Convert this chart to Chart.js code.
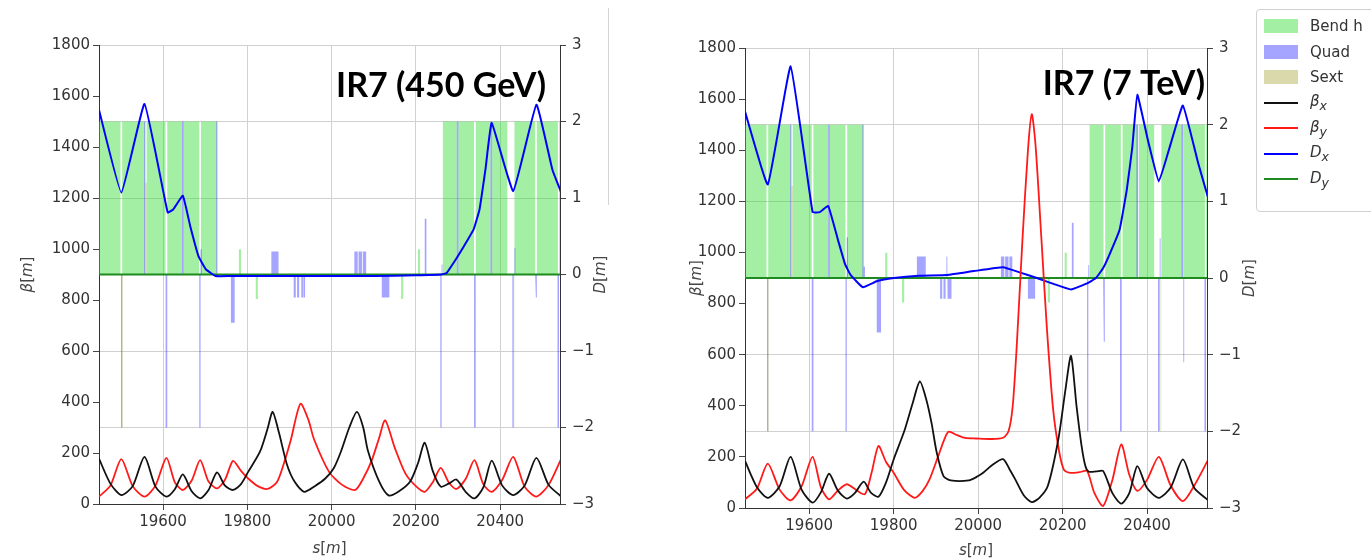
<!DOCTYPE html>
<html>
<head>
<meta charset="utf-8">
<script src="https://cdn.jsdelivr.net/npm/chart.js@4.4.1/dist/chart.umd.min.js"></script>
<style>
  body { margin: 0; background: #fff; width: 1371px; height: 560px; overflow: hidden; position: relative; font-family: "DejaVu Sans", sans-serif; }
  #left { position: absolute; left: 0; top: 0; }
  #right { position: absolute; left: 650px; top: 0; }
  #sep { position: absolute; left: 608px; top: 8px; width: 1px; height: 197px; background: #d4d4d4; }
  #legend { position: absolute; left: 1256px; top: 9px; width: 130px; height: 201px; border: 1px solid #d0d0d0; border-radius: 4px; background: #fff; }
  .item { position: absolute; left: 0; height: 20px; font-size: 15px; color: #333; display: flex; align-items: center; white-space: nowrap; }
  .sw { width: 34px; margin-left: 7px; margin-right: 12px; }
</style>
</head>
<body>
<canvas id="left" width="640" height="560"></canvas>
<canvas id="right" width="615" height="560"></canvas>
<div id="sep"></div>
<div id="legend"></div>
<script>
// s positions of ticks
const xTicks = [19600, 19800, 20000, 20200, 20400];

// lattice elements: [s start, s end, height in D units]
const bends = [
  [19440, 19499, 2], [19503, 19556, 2], [19561, 19606, 2], [19610, 19645, 2], [19649, 19686, 2], [19690, 19727, 2],
  [19780, 19785, 0.33], [19820, 19825, -0.32], [20165, 20170, -0.32], [20205, 20210, 0.33],
  [20264, 20297, 2], [20301, 20338, 2], [20342, 20377, 2], [20381, 20417, 2], [20434, 20483, 2], [20487, 20537, 2], [20540, 20550, 2]
];
const sexts = [[19503, 19505, -2], [19558, 19561, 1.2], [20432, 20434, -2]];

const quadsL = [
  [19500, 19503, -2], [19555, 19558, 2], [19606, 19610, -2], [19645, 19649, 2], [19686, 19689, -2], [19689, 19692, 0.33],
  [19726, 19729, 2], [19761, 19770, -0.63], [19857, 19874, 0.3],
  [19910, 19915, -0.3], [19918, 19923, -0.3], [19925, 19927, 0.08], [19928, 19932, -0.3], [19933, 19937, -0.3],
  [20054, 20062, 0.3], [20064, 20072, 0.3], [20074, 20082, 0.3], [20119, 20137, -0.3],
  [20221, 20225, 0.73], [20258, 20261, -2], [20261, 20263, 0.13], [20297, 20301, 2], [20338, 20342, -2],
  [20377, 20381, 2], [20429, 20432, -2], [20434, 20436, 0.35], [20483, 20485, 2], [20485, 20487, -0.3], [20536, 20540, -2]
];
const quadsR = [
  [19500, 19503, -2], [19555, 19558, 2], [19606, 19610, -2], [19645, 19649, 2], [19686, 19689, -2], [19689, 19692, 0.53],
  [19726, 19729, 2], [19729, 19732, 0.15], [19760, 19770, -0.71], [19855, 19876, 0.28],
  [19910, 19915, -0.27], [19918, 19923, -0.27], [19925, 19927, 0.28], [19928, 19932, -0.27], [19933, 19937, -0.27],
  [20054, 20062, 0.28], [20064, 20072, 0.28], [20074, 20081, 0.28], [20118, 20135, -0.27],
  [20222, 20226, 0.72], [20258, 20261, -2], [20261, 20263, 0.17], [20296, 20298, 2], [20298, 20300, -0.83],
  [20336, 20340, -2], [20375, 20379, 2], [20426, 20430, -2], [20430, 20432, 0.52],
  [20482, 20486, 2], [20486, 20488, -1.1], [20536, 20540, -2]
];

// optics, 450 GeV: [s, value]
const betaxL = [
  [19448, 178], [19475, 80], [19501, 35], [19528, 70], [19556, 185], [19582, 68], [19608, 29], [19628, 58], [19647, 116],
  [19668, 50], [19688, 22], [19708, 55], [19728, 124], [19747, 72], [19766, 55], [19785, 78], [19802, 126], [19830, 205],
  [19848, 295], [19860, 361], [19875, 280], [19894, 155], [19912, 88], [19935, 48], [19960, 70], [19985, 100], [20005, 140],
  [20022, 205], [20042, 300], [20060, 361], [20075, 300], [20086, 210], [20113, 88], [20136, 33], [20160, 50], [20186, 87],
  [20205, 160], [20221, 240], [20240, 130], [20259, 68], [20278, 80], [20296, 96], [20318, 48], [20339, 22], [20360, 65],
  [20380, 170], [20405, 72], [20431, 35], [20458, 72], [20486, 181], [20515, 75], [20545, 29]
];
const betayL = [
  [19448, 29], [19475, 72], [19501, 176], [19528, 70], [19556, 29], [19582, 72], [19608, 181], [19628, 85], [19647, 55],
  [19668, 92], [19688, 172], [19708, 88], [19728, 61], [19747, 95], [19766, 169], [19785, 130], [19802, 100], [19825, 70],
  [19848, 59], [19870, 85], [19885, 150], [19903, 250], [19926, 393], [19945, 330], [19958, 255], [19994, 126], [20025, 75],
  [20056, 55], [20075, 100], [20095, 170], [20113, 260], [20127, 328], [20150, 220], [20175, 120], [20200, 70], [20221, 48],
  [20240, 85], [20259, 142], [20278, 85], [20296, 59], [20318, 98], [20339, 172], [20360, 78], [20380, 48], [20405, 95],
  [20431, 185], [20458, 68], [20486, 29], [20515, 75], [20545, 178]
];
const dxL = [
  [19448, 2.15], [19501, 1.07], [19556, 2.23], [19611, 0.81], [19624, 0.85], [19647, 1.03], [19665, 0.62], [19684, 0.24],
  [19702, 0.065], [19725, -0.02], [19760, -0.02], [20100, -0.02], [20200, -0.01], [20259, 0], [20273, 0.02], [20295, 0.2],
  [20314, 0.37], [20337, 0.59], [20351, 0.85], [20365, 1.37], [20380, 1.98], [20431, 1.09], [20486, 2.22], [20524, 1.37], [20545, 1.07]
];

// optics, 7 TeV
const betaxR = [
  [19448, 184], [19476, 82], [19502, 40], [19530, 85], [19556, 200], [19582, 72], [19608, 21], [19628, 62], [19647, 134],
  [19668, 68], [19689, 37], [19708, 58], [19729, 103], [19746, 60], [19764, 44], [19782, 100], [19800, 190], [19825, 300],
  [19845, 410], [19862, 495], [19878, 420], [19890, 330], [19902, 217], [19918, 125], [19935, 108], [19978, 108], [20000, 125],
  [20012, 138], [20035, 170], [20059, 191], [20075, 150], [20088, 112], [20108, 50], [20127, 23], [20145, 40], [20165, 86],
  [20190, 269], [20207, 465], [20220, 595], [20233, 400], [20245, 243], [20254, 164], [20262, 142], [20280, 143], [20296, 145],
  [20318, 58], [20339, 17], [20358, 58], [20377, 164], [20400, 78], [20428, 40], [20456, 80], [20485, 190], [20512, 78], [20545, 30]
];
const betayR = [
  [19448, 34], [19476, 75], [19502, 174], [19530, 72], [19556, 30], [19582, 85], [19608, 200], [19628, 80], [19647, 34],
  [19668, 68], [19689, 93], [19710, 72], [19732, 54], [19748, 140], [19764, 243], [19782, 180], [19800, 138], [19825, 70],
  [19850, 40], [19868, 65], [19885, 112], [19905, 200], [19929, 298], [19950, 285], [19969, 274], [19995, 272], [20030, 270],
  [20059, 275], [20072, 300], [20082, 400], [20092, 650], [20105, 1050], [20118, 1400], [20127, 1541], [20136, 1420],
  [20150, 1050], [20163, 700], [20178, 380], [20192, 220], [20203, 150], [20215, 138], [20240, 140], [20258, 145],
  [20275, 60], [20296, 8], [20318, 110], [20339, 249], [20358, 130], [20377, 67], [20400, 110], [20428, 200], [20456, 88],
  [20485, 27], [20512, 88], [20545, 190]
];
const dxR = [
  [19448, 2.17], [19502, 1.22], [19556, 2.76], [19608, 0.86], [19625, 0.86], [19645, 0.94], [19668, 0.5], [19685, 0.18],
  [19698, 0.04], [19727, -0.12], [19761, -0.04], [19800, 0], [19859, 0.03], [19927, 0.04], [19990, 0.09], [20059, 0.14],
  [20100, 0.07], [20139, 0], [20180, -0.08], [20220, -0.15], [20258, -0.07], [20279, 0], [20295, 0.12], [20309, 0.28],
  [20335, 0.63], [20352, 1.15], [20365, 1.7], [20377, 2.39], [20402, 1.8], [20428, 1.26], [20456, 1.75], [20485, 2.25],
  [20521, 1.5], [20545, 1.04]
];
const dy = [[19440, 0], [20550, 0]];

const colors = {
  bend: 'rgba(50,220,50,0.45)',
  quad: 'rgba(40,40,255,0.42)',
  sext: 'rgba(180,180,90,0.5)',
  bx: '#111111',
  by: '#ff1a1a',
  dx: '#0000ff',
  dy: '#1f8a1f'
};

function blocks(list) {
  const pts = [];
  list.forEach(e => {
    pts.push({x: e[0], y: 0}, {x: e[0], y: e[2]}, {x: e[1], y: e[2]}, {x: e[1], y: 0});
  });
  return pts;
}
const xy = arr => arr.map(p => ({x: p[0], y: p[1]}));

function rich(ctx, parts, x, y, rotate) {
  ctx.save();
  ctx.translate(x, y);
  if (rotate) ctx.rotate(-Math.PI / 2);
  ctx.textBaseline = 'middle';
  ctx.textAlign = 'left';
  const font = p => (p[1] ? 'italic ' : '') + '15px "DejaVu Sans"';
  let w = 0;
  parts.forEach(p => { ctx.font = font(p); w += ctx.measureText(p[0]).width; });
  let cx = -w / 2;
  parts.forEach(p => { ctx.font = font(p); ctx.fillText(p[0], cx, 0); cx += ctx.measureText(p[0]).width; });
  ctx.restore();
}

const titles = {
  id: 'titles',
  afterDraw(chart, args, o) {
    const ctx = chart.ctx, a = chart.chartArea;
    ctx.save();
    ctx.fillStyle = '#444';
    const mid = (a.top + a.bottom) / 2;
    rich(ctx, [['β', true], ['[', false], ['m', true], [']', false]], o.leftX, mid, true);
    rich(ctx, [['D', true], ['[', false], ['m', true], [']', false]], o.rightX, mid, true);
    rich(ctx, [['s', true], ['[', false], ['m', true], [']', false]], (a.left + a.right) / 2, o.bottomY, false);
    ctx.fillStyle = '#000';
    ctx.font = 'bold 34px Lato';
    ctx.textAlign = 'right';
    ctx.textBaseline = 'alphabetic';
    ctx.fillText(o.title, o.titleX, o.titleY);
    ctx.restore();
  }
};

function makeChart(id, bx, by, dx, quads, geo) {
  const tickFont = {family: 'DejaVu Sans', size: 15};
  return new Chart(document.getElementById(id), {
    type: 'line',
    data: {
      datasets: [
        {data: xy(bx), borderColor: colors.bx, borderWidth: 1.8, yAxisID: 'yB', tension: 0.25, order: 0},
        {data: xy(by), borderColor: colors.by, borderWidth: 1.8, yAxisID: 'yB', tension: 0.25, order: 1},
        {data: xy(dx), borderColor: colors.dx, borderWidth: 2, yAxisID: 'yD', tension: 0.1, order: 2},
        {data: xy(dy), borderColor: colors.dy, borderWidth: 2, yAxisID: 'yD', tension: 0, order: 3},
        {data: blocks(sexts), borderWidth: 0, backgroundColor: colors.sext, fill: {value: 0}, yAxisID: 'yD', tension: 0, order: 4},
        {data: blocks(quads), borderWidth: 0, backgroundColor: colors.quad, fill: {value: 0}, yAxisID: 'yD', tension: 0, order: 5},
        {data: blocks(bends), borderWidth: 0, backgroundColor: colors.bend, fill: {value: 0}, yAxisID: 'yD', tension: 0, order: 6}
      ]
    },
    options: {
      responsive: false,
      animation: false,
      events: [],
      elements: {point: {radius: 0}},
      layout: {padding: {top: geo.top, left: 0, right: 0, bottom: 0}},
      plugins: {
        legend: {display: false},
        tooltip: {enabled: false},
        titles: geo.titles
      },
      scales: {
        x: {
          type: 'linear', min: 19448, max: 20542,
          afterBuildTicks: s => { s.ticks = xTicks.map(v => ({value: v})); },
          afterFit: s => { s.height = geo.xh; },
          ticks: {font: tickFont, color: '#333', padding: 3, maxRotation: 0, callback: v => String(v)},
          grid: {color: '#d0d0d0', tickColor: '#444', tickLength: 6},
          border: {color: '#333'}
        },
        yB: {
          position: 'left', min: 0, max: 1800,
          afterFit: s => { s.width = geo.lw; },
          ticks: {stepSize: 200, font: tickFont, color: '#333', padding: 3, callback: v => String(v)},
          grid: {drawOnChartArea: false, tickColor: '#444', tickLength: 6},
          border: {color: '#333'}
        },
        yD: {
          position: 'right', min: -3, max: 3,
          afterFit: s => { s.width = geo.rw; },
          ticks: {stepSize: 1, font: tickFont, color: '#333', padding: 6, callback: v => v < 0 ? '\u2212' + (-v) : String(v)},
          grid: {color: '#d0d0d0', tickColor: '#444', tickLength: 6},
          border: {color: '#333'}
        }
      }
    },
    plugins: [titles]
  });
}

makeChart('left', betaxL, betayL, dxL, quadsL, {
  top: 45, xh: 56, lw: 99, rw: 80,
  titles: {leftX: 28, rightX: 601, bottomY: 549, title: 'IR7 (450 GeV)', titleX: 546, titleY: 97}
});
makeChart('right', betaxR, betayR, dxR, quadsR, {
  top: 48, xh: 52, lw: 95, rw: 58,
  titles: {leftX: 47, rightX: 600, bottomY: 551, title: 'IR7 (7 TeV)', titleX: 555, titleY: 95}
});

// legend
const legendItems = [
  {html: 'Bend h', kind: 'box', color: colors.bend},
  {html: 'Quad', kind: 'box', color: colors.quad},
  {html: 'Sext', kind: 'box', color: colors.sext},
  {html: '<i>β<sub>x</sub></i>', kind: 'line', color: colors.bx},
  {html: '<i>β<sub>y</sub></i>', kind: 'line', color: colors.by},
  {html: '<i>D<sub>x</sub></i>', kind: 'line', color: colors.dx},
  {html: '<i>D<sub>y</sub></i>', kind: 'line', color: colors.dy}
];
const legend = document.getElementById('legend');
legendItems.forEach((it, i) => {
  const row = document.createElement('div');
  row.className = 'item';
  row.style.top = (6 + i * 25.5) + 'px';
  const sw = it.kind === 'box'
    ? `<span class="sw" style="height:14px;background:${it.color}"></span>`
    : `<span class="sw" style="height:2px;background:${it.color}"></span>`;
  row.innerHTML = sw + `<span>${it.html}</span>`;
  legend.appendChild(row);
});
</script>
</body>
</html>
